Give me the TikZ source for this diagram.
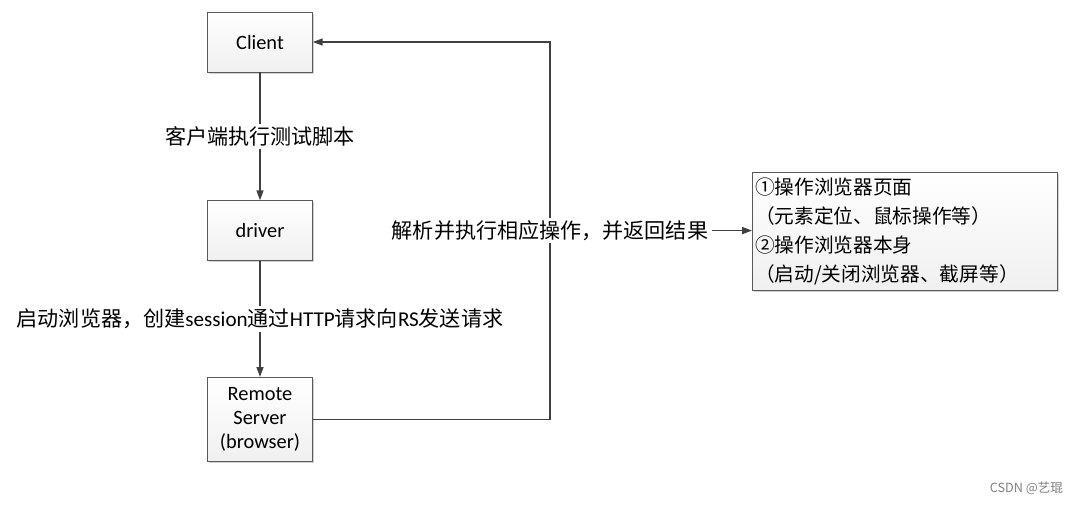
\documentclass[tikz,border=0pt]{standalone}
\usepackage{fontspec}
\setmainfont{Carlito}
\newfontfamily\cjk{Noto Sans CJK SC}
\usetikzlibrary{positioning, arrows.meta, shadows}

\begin{document}
\begin{tikzpicture}[
        box/.style={draw=gray!70!black, rectangle, align=center, minimum width=2.625cm, minimum height=1.5cm,
            top color=white, bottom color=gray!12, font=\fontsize{14.5}{17}\selectfont,
            drop shadow={shadow xshift=1.2pt, shadow yshift=-1.2pt, opacity=0.35, fill=gray}},
        notebox/.style={box, align=left, text width=7.48cm, minimum height=2.95cm, inner xsep=2pt,
            font=\cjk\fontsize{14}{20.5}\selectfont},
        lbl/.style={fill=white, inner sep=2pt, font=\fontsize{15}{18}\selectfont},
        arrow/.style={-{Triangle[length=7pt, width=5pt]}, line width=0.9pt, draw=gray!50!black}
    ]
    \useasboundingbox (0,0) rectangle (27,-12.6);

    \node[box] (client) at (6.5,-1.05) {Client};
    \node[box, below=3.2cm of client] (driver) {driver};
    \node[box, below=2.9cm of driver, minimum height=2.1cm] (remote) {Remote\\Server\\(browser)};
    \coordinate (turn) at (13.75,-1.05);
    \coordinate (corner) at (turn |- remote.east);
    \node[notebox, anchor=north west] (ops) at (18.8,-4.3)
        {①操作浏览器页面\\（元素定位、鼠标操作等）\\②操作浏览器本身\\（启动/关闭浏览器、截屏等）};

    \draw[arrow] (client) -- node[lbl] (run) {\cjk 客户端执行测试脚本} (driver);
    \draw[arrow] (driver) -- node[lbl] (start) {{\cjk 启动浏览器，创建}session{\cjk 通过}HTTP{\cjk 请求向}RS{\cjk 发送请求}} (remote);
    \draw[arrow] (remote.east) -- (corner) -- node[lbl] (parse) {\cjk 解析并执行相应操作，并返回结果} (turn) -- (client.east);
    \draw[arrow] (parse.east) -- (ops.west |- parse.east);

    % watermark
    \node[text=gray, font=\cjk\fontsize{9}{10}\selectfont, anchor=east] (mark) at (26.7,-12.2) {CSDN @艺琨};
\end{tikzpicture}
\end{document}
